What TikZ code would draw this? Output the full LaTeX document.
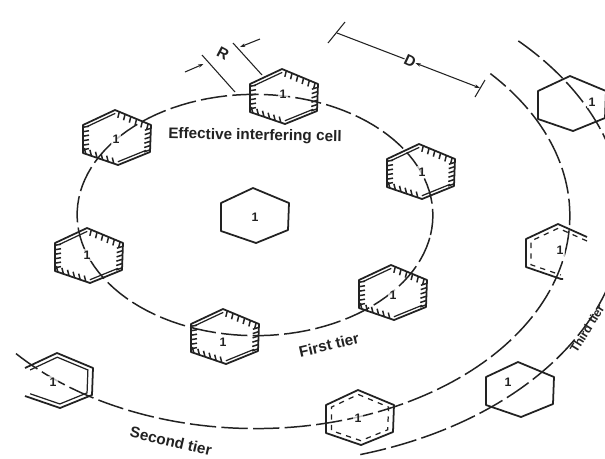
\documentclass[tikz,border=0pt]{standalone}
\usepackage{fontspec}
\setsansfont{Liberation Sans}
\usetikzlibrary{arrows.meta,calc}
\definecolor{tinta}{HTML}{222222}
\tikzset{
  tierline/.style={tinta, line width=0.85pt, dash pattern=on 15pt off 3pt},
  hexline/.style={tinta, line width=1pt, line join=round},
  hatchline/.style={tinta, line width=0.85pt},
  innerline/.style={tinta, line width=0.7pt},
  dimline/.style={tinta, line width=0.6pt},
  cellnum/.style={tinta, font=\sffamily\bfseries\fontsize{7}{7}\selectfont, inner sep=1pt},
  tierlabel/.style={tinta, font=\sffamily\bfseries\fontsize{8.7}{9}\selectfont, inner sep=0pt}
}
% corners of one cell, relative to its centre
\newcommand{\hexcorners}{
  \coordinate (v1) at (-2,-28); \coordinate (v2) at (34,-13); \coordinate (v3) at (33,14);
  \coordinate (v4) at (1,27); \coordinate (v5) at (-34,15); \coordinate (v6) at (-34,-13);
}
% ring through the cells: scale, start and end angle
\newcommand{\tierarc}[3]{
  \draw[tierline, domain=#2:#3, samples=120] plot
    ({255+#1*(175.5*cos(\x)+29*sin(\x))},{215+#1*(20*cos(\x)-119*sin(\x))});
}
% hatch strokes along one edge: from, to, stroke
\newcommand{\hatchedge}[3]{
  \foreach \t in {0.12,0.28,0.44,0.60,0.76,0.92}{
    \draw[hatchline] ($(#1)!\t!(#2)$) -- ++(#3);
  }
}
\newcommand{\hatchcell}[2]{
  \begin{scope}[shift={(#1,#2)}]
    \hexcorners
    \draw[hexline] (v1)--(v2)--(v3)--(v4)--(v5)--(v6)--cycle;
    \hatchedge{v1}{v2}{-1.5,6} \hatchedge{v2}{v3}{-6,2} \hatchedge{v4}{v5}{-1.5,-6} \hatchedge{v5}{v6}{6,-1}
    \draw[innerline] ($(v6)!0.12!(0,0)$) -- ($(v1)!0.12!(0,0)$);
    \draw[innerline] ($(v3)!0.12!(0,0)$) -- ($(v4)!0.12!(0,0)$);
  \end{scope}
}
\begin{document}
\begin{tikzpicture}[x=0.02cm, y=-0.02cm]
  \clip (0,0) rectangle (605,458);
  \fill[white] (0,0) rectangle (605,458);
  \tierarc{1}{0}{360}
  \tierarc{1.77}{-130}{51}
  \tierarc{2.07}{-64}{54}
  % cells of the first tier
  \hatchcell{284}{97}
  \hatchcell{117}{138}
  \hatchcell{89}{256}
  \hatchcell{225}{337}
  \hatchcell{393}{293}
  \hatchcell{421}{172}
  % wanted cell
  \begin{scope}[shift={(255,216)}]
    \hexcorners
    \draw[hexline] (v1)--(v2)--(v3)--(v4)--(v5)--(v6)--cycle;
  \end{scope}
  % second tier
  \begin{scope}[shift={(59,381)}]
    \hexcorners
    \draw[hexline] (v6)--(v1)--(v2)--(v3)--(v4)--(v5);
    \draw[innerline] ($(v6)!0.15!(0,0)$)--($(v1)!0.15!(0,0)$)--($(v2)!0.15!(0,0)$)--($(v3)!0.15!(0,0)$)--($(v4)!0.15!(0,0)$)--($(v5)!0.15!(0,0)$);
  \end{scope}
  \begin{scope}[shift={(360,418)}]
    \hexcorners
    \draw[hexline] (v1)--(v2)--(v3)--(v4)--(v5)--(v6)--cycle;
    \draw[innerline, dashed] ($(v1)!0.16!(0,0)$)--($(v2)!0.16!(0,0)$)--($(v3)!0.16!(0,0)$)--($(v4)!0.16!(0,0)$)--($(v5)!0.16!(0,0)$)--($(v6)!0.16!(0,0)$)--cycle;
  \end{scope}
  \begin{scope}[shift={(560,252)}]
    \hexcorners
    \draw[hexline] (27,-15)--(v1)--(v6)--(v5)--(v4)--(3,27);
    \draw[innerline, dashed] (27,-11)--($(v1)!0.15!(0,0)$)--($(v6)!0.15!(0,0)$)--($(v5)!0.15!(0,0)$)--($(v4)!0.15!(0,0)$);
  \end{scope}
  % third tier
  \begin{scope}[shift={(572,104)}]
    \hexcorners
    \draw[hexline] (v1)--(v2)--(v3)--(v4)--(v5)--(v6)--cycle;
  \end{scope}
  \begin{scope}[shift={(520,390)}]
    \hexcorners
    \draw[hexline] (v1)--(v2)--(v3)--(v4)--(v5)--(v6)--cycle;
  \end{scope}
  % cell numbers
  \foreach \nx/\ny [count=\n] in {283/94,116/139,87/255,223/342,393/295,422/172,255/217,53/382,358/418,560/250,592/102,508/382}{
    \node[cellnum, fill=white, fill opacity=0.7, text opacity=1] (num\n) at (\nx,\ny) {1};
  }
  % R and D dimensions
  \coordinate (rlo) at (235,92);  \coordinate (rloend) at (202,55);
  \coordinate (rhi) at (262,75);  \coordinate (rhiend) at (233,43);
  \coordinate (rina) at (185,72); \coordinate (rinb) at (203.5,64);
  \coordinate (rinc) at (260,39); \coordinate (rind) at (240,47);
  \draw[dimline] (rlo) -- (rloend);
  \draw[dimline] (rhi) -- (rhiend);
  \draw[dimline, -{Stealth[length=3pt,width=2pt]}] (rina) -- (rinb);
  \draw[dimline, -{Stealth[length=3pt,width=2pt]}] (rinc) -- (rind);
  \node[tierlabel, rotate=-28] (labelR) at (223,53) {R};
  \coordinate (dtl) at (328,43); \coordinate (dth) at (345,22);
  \coordinate (drl) at (475,97); \coordinate (drh) at (485,80);
  \draw[dimline] (dtl) -- (dth);
  \draw[dimline] (drl) -- (drh);
  \node[tierlabel, rotate=-25] (labelD) at (410,61) {D};
  \coordinate (dstart) at (337,33); \coordinate (dend) at (480,88);
  \draw[dimline, {Stealth[length=3pt,width=2pt]}-{Stealth[length=3pt,width=2pt]}] (dstart) -- (labelD) -- (dend);
  % texts
  \node[tierlabel, rotate=-1] (labeleff) at (255,136) {Effective interfering cell};
  \node[tierlabel, rotate=13] (labelfirst) at (329,345) {First tier};
  \node[tierlabel, rotate=-13] (labelsecond) at (171,441) {Second tier};
  \node[tierlabel, font=\sffamily\bfseries\fontsize{7}{8}\selectfont, rotate=58] (labelthird) at (587,329) {Third tier};
\end{tikzpicture}
\end{document}
